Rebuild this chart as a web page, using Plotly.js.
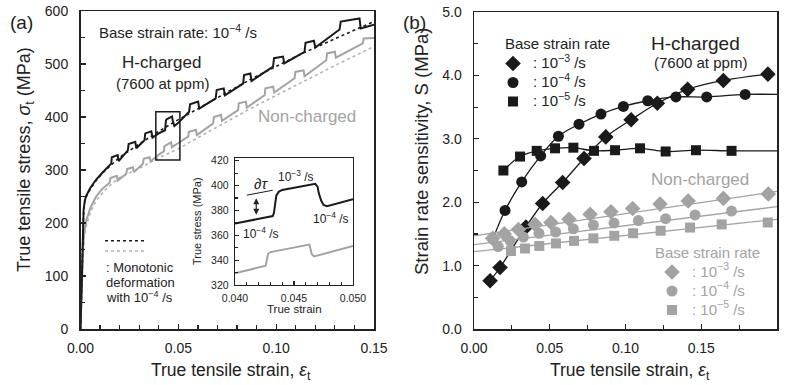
<!DOCTYPE html>
<html>
<head>
<meta charset="utf-8">
<script src="https://cdn.plot.ly/plotly-3.0.1.min.js"></script>
<style>html,body{margin:0;padding:0;background:#fff;}#chart{width:790px;height:385px;}</style>
</head>
<body>
<div id="chart"></div>
<script>
// ---------- Panel (a): true stress-strain curves ----------
const hStrain = [0.0000,0.0008,0.0012,0.0016,0.0022,0.0030,0.0050,0.0080,0.0120,0.0157,0.0160,0.0190,0.0195,0.0242,0.0246,0.0280,0.0285,0.0327,0.0331,0.0362,0.0368,0.0400,0.0432,0.0437,0.0442,0.0468,0.0471,0.0476,0.0480,0.0500,0.0555,0.0560,0.0601,0.0607,0.0691,0.0696,0.0732,0.0738,0.0831,0.0836,0.0868,0.0874,0.0984,0.0989,0.1035,0.1041,0.1145,0.1150,0.1193,0.1200,0.1324,0.1330,0.1426,0.1432,0.1500];
const hStress = [0,100,180,225,242,252,266,282,298,312,324,328,317,337,349,353,341,356,369,373,361,369,375,394,396,401,394,385,383,389,410,424,429,416,435,451,454,441,463,479,482,468,495,511,514,501,523,540,544,531,565,580,586,567,574];

const hMonoStrain = [0,0.0008,0.0012,0.0016,0.0022,0.003,0.005,0.008,0.012,0.016,0.02,0.03,0.04,0.05,0.06,0.07,0.08,0.09,0.10,0.11,0.12,0.13,0.14,0.15];
const hMonoStress = [0,110,190,225,240,250,264,280,297,311,324,349,373,395,416,437,457,477,496,514,531,548,564,580];

const nStrain = [0,0.0008,0.0013,0.0020,0.0030,0.0050,0.0080,0.0110,0.0149,0.0153,0.0185,0.0190,0.0234,0.0238,0.0268,0.0273,0.0319,0.0323,0.0353,0.0358,0.0400,0.0426,0.0429,0.0463,0.0467,0.0500,0.0550,0.0554,0.0590,0.0595,0.0678,0.0682,0.0718,0.0723,0.0805,0.0809,0.0845,0.0850,0.0941,0.0945,0.0985,0.0990,0.1094,0.1098,0.1140,0.1145,0.1256,0.1260,0.1300,0.1305,0.1443,0.1447,0.1500];
const nStress = [0,90,150,185,205,228,250,264,276,285,289,280,293,302,305,296,312,321,324,316,329,335,345,352,343,351,363,372,376,366,388,400,404,393,413,426,429,418,441,454,457,446,473,485,488,477,507,520,523,512,539,548,549];

const nMonoStrain = [0,0.0008,0.0013,0.002,0.003,0.005,0.008,0.012,0.016,0.02,0.03,0.04,0.05,0.06,0.07,0.08,0.09,0.10,0.11,0.12,0.13,0.14,0.15];
const nMonoStress = [0,90,140,175,195,220,242,260,274,286,303,323,340,361,382,402,422,441,460,479,497,515,533];

// inset (zoom of the boxed region)
const insetHStrain = [0.0400,0.0432,0.0433,0.0434,0.0435,0.0437,0.0440,0.0468,0.0470,0.0471,0.0473,0.0475,0.0478,0.0500];
const insetHStress = [369.5,375.5,378,386,392,395,396.5,401.5,399,394,388,384.5,383.5,389];
const insetNStrain = [0.0400,0.0426,0.0427,0.0428,0.0430,0.0463,0.0464,0.0465,0.0467,0.0500];
const insetNStress = [329.5,335.5,340,345,346.5,352.5,349,345,343,351.5];

// ---------- Panel (b): strain rate sensitivity ----------
const rateLabels = [': 10<sup>\u22123</sup> /s', ': 10<sup>\u22124</sup> /s', ': 10<sup>\u22125</sup> /s'];

const hDiaX = [0.0106,0.0172,0.0343,0.0453,0.0585,0.0726,0.0870,0.1037,0.1210,0.1410,0.1646,0.1940];
const hDiaY = [0.76,0.97,1.61,1.98,2.31,2.69,3.03,3.30,3.56,3.78,3.92,4.02];
const hCirX = [0.0125,0.0205,0.0315,0.0440,0.0557,0.0693,0.0838,0.0986,0.1147,0.1333,0.1536,0.1790];
const hCirY = [1.42,1.87,2.32,2.73,3.04,3.23,3.39,3.51,3.60,3.66,3.66,3.70];
const hCirEnd = [0.20, 3.70];
const hSqX = [0.0194,0.0304,0.0414,0.0535,0.0656,0.0792,0.0931,0.1096,0.1265,0.1465,0.1700];
const hSqY = [2.50,2.72,2.81,2.85,2.86,2.81,2.82,2.85,2.80,2.82,2.81];
const hSqEnd = [0.20, 2.81];

const nDiaX = [0.0123,0.0200,0.0293,0.0403,0.0508,0.0627,0.0766,0.0904,0.1047,0.1228,0.1414,0.1646,0.1943];
const nDiaY = [1.43,1.50,1.57,1.65,1.68,1.73,1.81,1.85,1.90,1.97,2.02,2.06,2.13];
const nCirX = [0.0160,0.0238,0.0326,0.0429,0.0539,0.0656,0.0788,0.0924,0.1085,0.1265,0.1459,0.1700];
const nCirY = [1.30,1.39,1.45,1.51,1.53,1.58,1.64,1.67,1.71,1.74,1.80,1.86];
const nSqX = [0.0244,0.0337,0.0431,0.0541,0.0660,0.0788,0.0926,0.1050,0.1232,0.1426,0.1635,0.1939];
const nSqY = [1.23,1.27,1.31,1.35,1.39,1.43,1.47,1.51,1.55,1.60,1.65,1.68];
// linear fits of non-charged data (end points at strain 0 and 0.2)
const fitX = [0, 0.2];
const nDiaFit = [1.47, 2.17];
const nCirFit = [1.33, 1.93];
const nSqFit = [1.22, 1.73];

// ---------- styling ----------
const W = 790, H = 385;
const PX = v => v / W, PY = v => 1 - v / H;
const FONT = 'Liberation Sans, Arial, sans-serif';
const BLK = '#1a1a1a', GRY = '#a3a3a3', GRYL = '#b3b3b3', AX = '#222';
const legName = (s) => '<span style="font-size:15px">' + s + '</span>';

const traces = [
  {x:nMonoStrain, y:nMonoStress, xaxis:'x', yaxis:'y', mode:'lines', line:{color:GRYL, width:1.6, dash:'dot'}, showlegend:false},
  {x:nStrain, y:nStress, xaxis:'x', yaxis:'y', mode:'lines', line:{color:GRY, width:2}, showlegend:false},
  {x:hMonoStrain, y:hMonoStress, xaxis:'x', yaxis:'y', mode:'lines', line:{color:BLK, width:1.6, dash:'dot'}, showlegend:false},
  {x:hStrain, y:hStress, xaxis:'x', yaxis:'y', mode:'lines', line:{color:BLK, width:2}, showlegend:false},
  {x:insetNStrain, y:insetNStress, xaxis:'x2', yaxis:'y2', mode:'lines', line:{color:GRY, width:2}, showlegend:false},
  {x:insetHStrain, y:insetHStress, xaxis:'x2', yaxis:'y2', mode:'lines', line:{color:BLK, width:2}, showlegend:false},
  // panel b black lines
  {x:hDiaX, y:hDiaY, xaxis:'x3', yaxis:'y3', mode:'lines', line:{color:BLK, width:1.3, shape:'spline'}, showlegend:false},
  {x:hCirX.concat([hCirEnd[0]]), y:hCirY.concat([hCirEnd[1]]), xaxis:'x3', yaxis:'y3', mode:'lines', line:{color:BLK, width:1.3, shape:'spline'}, showlegend:false},
  {x:hSqX.concat([hSqEnd[0]]), y:hSqY.concat([hSqEnd[1]]), xaxis:'x3', yaxis:'y3', mode:'lines', line:{color:BLK, width:1.3, shape:'spline'}, showlegend:false},
  // black markers (legend)
  {x:hDiaX, y:hDiaY, xaxis:'x3', yaxis:'y3', mode:'markers', name:legName(rateLabels[0]), legend:'legend', marker:{symbol:'diamond', size:12, color:BLK}},
  {x:hCirX, y:hCirY, xaxis:'x3', yaxis:'y3', mode:'markers', name:legName(rateLabels[1]), legend:'legend', marker:{symbol:'circle', size:11, color:BLK}},
  {x:hSqX, y:hSqY, xaxis:'x3', yaxis:'y3', mode:'markers', name:legName(rateLabels[2]), legend:'legend', marker:{symbol:'square', size:10, color:BLK}},
  // grey fit lines
  {x:fitX, y:nDiaFit, xaxis:'x3', yaxis:'y3', mode:'lines', line:{color:GRY, width:1.3}, showlegend:false},
  {x:fitX, y:nCirFit, xaxis:'x3', yaxis:'y3', mode:'lines', line:{color:GRY, width:1.3}, showlegend:false},
  {x:fitX, y:nSqFit, xaxis:'x3', yaxis:'y3', mode:'lines', line:{color:GRY, width:1.3}, showlegend:false},
  // grey markers (legend2)
  {x:nDiaX, y:nDiaY, xaxis:'x3', yaxis:'y3', mode:'markers', name:legName(rateLabels[0]), legend:'legend2', marker:{symbol:'diamond', size:12, color:GRY}},
  {x:nCirX, y:nCirY, xaxis:'x3', yaxis:'y3', mode:'markers', name:legName(rateLabels[1]), legend:'legend2', marker:{symbol:'circle', size:11, color:GRY}},
  {x:nSqX, y:nSqY, xaxis:'x3', yaxis:'y3', mode:'markers', name:legName(rateLabels[2]), legend:'legend2', marker:{symbol:'square', size:10, color:GRY}}
];

const baseAxis = {
  showline:true, mirror:true, linecolor:AX, linewidth:1.5, showgrid:false, zeroline:false,
  ticks:'inside', ticklen:5, tickwidth:1.2, tickcolor:AX,
  tickfont:{family:FONT, size:14, color:AX}, fixedrange:true
};

const layout = {
  width:W, height:H, autosize:false,
  margin:{l:0, r:0, t:0, b:0},
  paper_bgcolor:'#fff', plot_bgcolor:'rgba(0,0,0,0)',
  font:{family:FONT, color:AX},
  xaxis: Object.assign({}, baseAxis, {domain:[PX(80.5), PX(374)], range:[0,0.15], tickvals:[0,0.05,0.10,0.15], tickformat:'.2f', ticklabelstandoff:6, minor:{dtick:0.01, ticks:'inside', ticklen:4, tickcolor:AX}, anchor:'y'}),
  yaxis: Object.assign({}, baseAxis, {domain:[1-329/H, 1-11/H], range:[0,600], dtick:100, ticklabelstandoff:8, minor:{dtick:50, ticks:'inside', ticklen:4, tickcolor:AX}, anchor:'x'}),
  xaxis2: Object.assign({}, baseAxis, {domain:[PX(235), PX(353)], range:[0.04,0.05], tickvals:[0.040,0.045,0.050], tickformat:'.3f', ticklen:4, tickfont:{family:FONT, size:10.5, color:AX}, ticklabelstandoff:3, minor:{dtick:0.001, ticks:'inside', ticklen:3, tickcolor:AX}, anchor:'y2', linewidth:1.3}),
  yaxis2: Object.assign({}, baseAxis, {domain:[1-285/H, 1-158.3/H], range:[320,422], tickvals:[320,340,360,380,400,420], ticklen:4, tickfont:{family:FONT, size:10.5, color:AX}, ticklabelstandoff:3, minor:{dtick:10, ticks:'inside', ticklen:3, tickcolor:AX}, anchor:'x2', linewidth:1.3}),
  xaxis3: Object.assign({}, baseAxis, {domain:[PX(474), PX(777)], range:[0,0.2], tickvals:[0,0.05,0.10,0.15,0.20], tickformat:'.2f', ticklabelstandoff:6, minor:{dtick:0.025, ticks:'inside', ticklen:4, tickcolor:AX}, anchor:'y3'}),
  yaxis3: Object.assign({}, baseAxis, {domain:[1-329/H, 1-12/H], range:[0,5], tickvals:[0,1,2,3,4,5], tickformat:'.1f', ticklabelstandoff:8, minor:{dtick:0.5, ticks:'inside', ticklen:4, tickcolor:AX}, anchor:'x3'}),
  legend: {x:PX(493), y:PY(49), xanchor:'left', yanchor:'top', bgcolor:'rgba(0,0,0,0)', borderwidth:0,
    font:{family:FONT, size:11.5, color:AX}, traceorder:'normal', itemwidth:30, tracegroupgap:0},
  legend2: {x:PX(652), y:PY(257.5), xanchor:'left', yanchor:'top', bgcolor:'rgba(0,0,0,0)', borderwidth:0,
    font:{family:FONT, size:11.5, color:GRY}, traceorder:'normal', itemwidth:30, tracegroupgap:0},
  shapes: [
    {type:'rect', xref:'x', yref:'y', x0:0.0385, x1:0.0508, y0:319, y1:410, line:{color:BLK, width:1.5}},
    {type:'line', xref:'paper', yref:'paper', x0:PX(105), x1:PX(146), y0:PY(240.7), y1:PY(240.7), line:{color:BLK, width:1.6, dash:'dot'}},
    {type:'line', xref:'paper', yref:'paper', x0:PX(105), x1:PX(146), y0:PY(251), y1:PY(251), line:{color:GRYL, width:1.6, dash:'dot'}},
    {type:'line', xref:'x2', yref:'y2', x0:0.0410, x1:0.0432, y0:392.3, y1:396.3, line:{color:BLK, width:1}}
  ],
  annotations: []
};

function txt(text, x, y, size, opts) {
  return Object.assign({text:text, xref:'paper', yref:'paper', x:PX(x), y:PY(y), showarrow:false,
    xanchor:'center', yanchor:'middle', font:{family:FONT, size:size, color:AX}}, opts || {});
}
const A = layout.annotations;
A.push(txt('(a)', 21, 22, 19));
A.push(txt('(b)', 414, 22, 19));
A.push(txt('True tensile stress, <i>σ</i><sub>t</sub> (MPa)', 25, 160, 18, {textangle:-90}));
A.push(txt('True tensile strain, <i>ε</i><sub>t</sub>', 231, 371, 17.5));
A.push(txt('Strain rate sensitivity, S (MPa)', 421, 151, 18.5, {textangle:-90}));
A.push(txt('True tensile strain, <i>ε</i><sub>t</sub>', 630, 371, 17.5));
A.push(txt('Base strain rate: 10<sup>\u22124</sup> /s', 97, 31, 15, {xanchor:'left'}));
A.push(txt('H-charged', 161, 63, 17));
A.push(txt('(7600 at ppm)', 162, 84, 15));
A.push(txt('Non-charged', 307, 116, 17, {font:{family:FONT, size:17, color:GRY}}));
A.push(txt(': Monotonic', 104, 267, 13, {xanchor:'left'}));
A.push(txt('deformation', 104, 282, 13, {xanchor:'left'}));
A.push(txt('with 10<sup>\u22124</sup> /s', 104, 297, 13, {xanchor:'left'}));
A.push(txt('True stress (MPa)', 197, 221, 11, {textangle:-90}));
A.push(txt('True strain', 294, 309, 11.5));
A.push(txt('H-charged', 695, 43, 19));
A.push(txt('(7600 at ppm)', 700, 63, 15));
A.push(txt('Non-charged', 700, 180, 17, {font:{family:FONT, size:17, color:GRY}}));
A.push(txt('Base strain rate', 503, 43, 15, {xanchor:'left'}));
A.push(txt('Base strain rate', 653, 252, 15, {xanchor:'left', font:{family:FONT, size:15, color:GRY}}));
// inset labels (data coordinates of the inset)
A.push({text:'∂<i>τ</i>', xref:'x2', yref:'y2', x:0.0422, y:402, showarrow:false, font:{family:FONT, size:15, color:AX}});
A.push({text:'10<sup>\u22123</sup> /s', xref:'x2', yref:'y2', x:0.0452, y:408, showarrow:false, font:{family:FONT, size:12, color:AX}});
A.push({text:'10<sup>\u22124</sup> /s', xref:'x2', yref:'y2', x:0.0481, y:374, showarrow:false, font:{family:FONT, size:12, color:AX}});
A.push({text:'10<sup>\u22124</sup> /s', xref:'x2', yref:'y2', x:0.0422, y:362, showarrow:false, font:{family:FONT, size:12, color:AX}});
A.push({text:'', xref:'x2', yref:'y2', x:0.0418, y:376.5, ax:0.0418, ay:391, axref:'x2', ayref:'y2', showarrow:true,
  arrowhead:2, startarrowhead:2, arrowside:'end+start', arrowsize:1, arrowwidth:1.2, arrowcolor:AX});

Plotly.newPlot('chart', traces, layout, {staticPlot:true, displayModeBar:false});
</script>
</body>
</html>
